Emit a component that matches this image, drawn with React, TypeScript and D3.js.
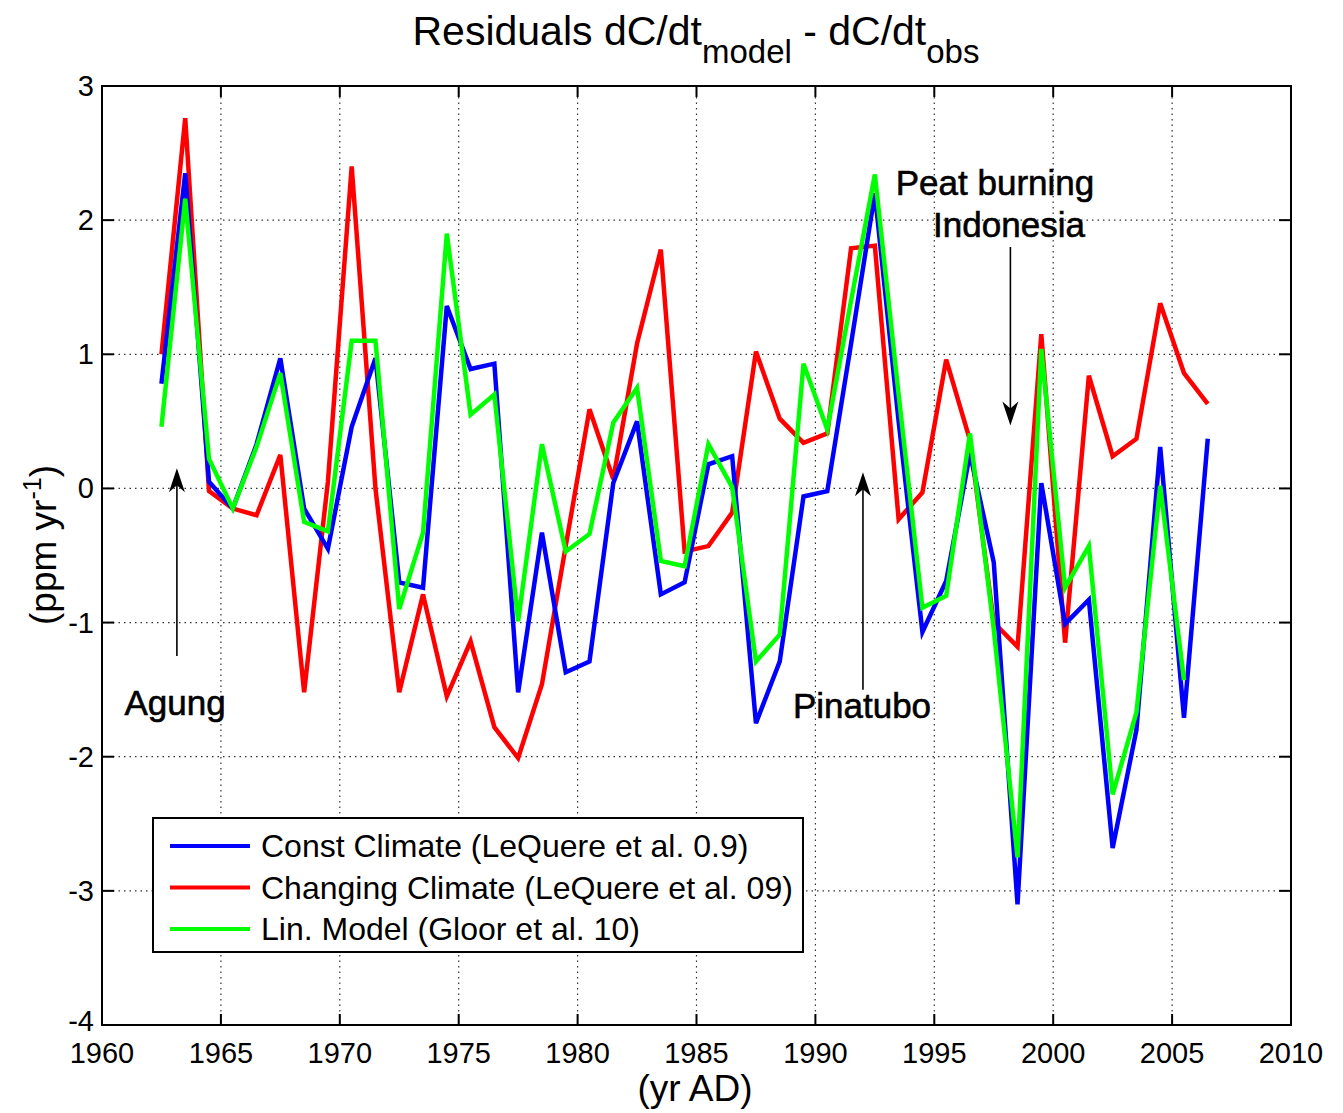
import React, { useEffect, useRef } from "react";
import * as d3 from "d3";

const years = d3.range(1962.5, 2007, 1);
const constClimate = [0.78, 2.35, 0.05, -0.15, 0.33, 0.97, -0.15, -0.45, 0.46, 0.97, -0.7, -0.74, 1.36, 0.89, 0.93, -1.52, -0.33, -1.37, -1.29, 0.04, 0.5, -0.79, -0.7, 0.18, 0.24, -1.75, -1.29, -0.06, -0.02, 1.08, 2.2, 0.5, -1.07, -0.69, 0.26, -0.55, -3.1, 0.04, -1.01, -0.83, -2.68, -1.8, 0.31, -1.71, 0.37];
const changingClimate = [1.0, 2.76, -0.02, -0.15, -0.2, 0.25, -1.52, 0.05, 2.4, 0.0, -1.52, -0.79, -1.55, -1.14, -1.78, -2.01, -1.46, -0.43, 0.59, 0.07, 1.08, 1.78, -0.47, -0.43, -0.18, 1.02, 0.52, 0.34, 0.41, 1.79, 1.81, -0.23, -0.03, 0.96, 0.36, -1.0, -1.18, 1.15, -1.15, 0.84, 0.24, 0.37, 1.38, 0.86, 0.63];
const linModel = [0.46, 2.16, 0.22, -0.15, 0.31, 0.86, -0.25, -0.32, 1.1, 1.1, -0.9, -0.33, 1.9, 0.55, 0.7, -0.99, 0.33, -0.47, -0.34, 0.49, 0.75, -0.54, -0.58, 0.33, 0.01, -1.29, -1.09, 0.93, 0.44, 1.4, 2.34, 0.7, -0.89, -0.8, 0.41, -1.05, -2.75, 1.04, -0.74, -0.43, -2.28, -1.67, 0.02, -1.43];

const xTicks = [1960, 1965, 1970, 1975, 1980, 1985, 1990, 1995, 2000, 2005, 2010];
const yTicks = [-4, -3, -2, -1, 0, 1, 2, 3];

const series = [
  { name: "Changing Climate (LeQuere et al. 09)", values: changingClimate, color: "#ff0000" },
  { name: "Const Climate (LeQuere et al. 0.9)", values: constClimate, color: "#0000ff" },
  { name: "Lin. Model (Gloor et al. 10)", values: linModel, color: "#00ff00" },
];
const legendOrder = [1, 0, 2];

const annotations = [
  { lines: [{ t: "Agung", x: 175, y: 715 }], ax: 1963.15, from: -1.25, to: 0.15 },
  { lines: [{ t: "Pinatubo", x: 862, y: 718 }], ax: 1992.0, from: -1.5, to: 0.12 },
  { lines: [{ t: "Peat burning", x: 995, y: 195 }, { t: "Indonesia", x: 1009, y: 237 }], ax: 1998.2, from: 1.8, to: 0.47 },
];

const FONT = "'Liberation Sans', Arial, Helvetica, sans-serif";

const App = () => {
  const svgRef = useRef<SVGSVGElement>(null);
  useEffect(() => {
    const svg = d3.select(svgRef.current);
    svg.selectAll("*").remove();
    const width = 1343;
    const height = 1113;
    const margin = { top: 86, right: 52, bottom: 88, left: 102 };
    const x = d3.scaleLinear().domain([1960, 2010]).range([margin.left, width - margin.right]);
    const y = d3.scaleLinear().domain([-4, 3]).range([height - margin.bottom, margin.top]);
    const [x0, x1] = x.range();
    const [y0, y1] = y.range();

    svg.append("rect").attr("width", width).attr("height", height).attr("fill", "#fff");

    // dotted grid
    const grid = svg.append("g").attr("stroke", "#333").attr("stroke-width", 1.2).attr("stroke-dasharray", "1.5,4");
    xTicks.slice(1, -1).forEach((t) => {
      grid.append("line").attr("x1", x(t)).attr("x2", x(t)).attr("y1", y1).attr("y2", y0);
    });
    yTicks.slice(1, -1).forEach((t) => {
      grid.append("line").attr("x1", x0).attr("x2", x1).attr("y1", y(t)).attr("y2", y(t));
    });

    // series lines
    const line = d3.line<number>().x((_, i) => x(years[i])).y((d) => y(d));
    series.forEach((s) => {
      svg.append("path")
        .attr("d", line(s.values))
        .attr("fill", "none")
        .attr("stroke", s.color)
        .attr("stroke-width", 4.5)
        .attr("stroke-linejoin", "miter");
    });

    // axes box + inward ticks
    const axes = svg.append("g").attr("stroke", "#000").attr("stroke-width", 2);
    axes.append("rect").attr("x", x0).attr("y", y1).attr("width", x1 - x0).attr("height", y0 - y1).attr("fill", "none");
    xTicks.forEach((t) => {
      axes.append("line").attr("x1", x(t)).attr("x2", x(t)).attr("y1", y0).attr("y2", y0 - 11);
      axes.append("line").attr("x1", x(t)).attr("x2", x(t)).attr("y1", y1).attr("y2", y1 + 11);
    });
    yTicks.forEach((t) => {
      axes.append("line").attr("x1", x0).attr("x2", x0 + 12).attr("y1", y(t)).attr("y2", y(t));
      axes.append("line").attr("x1", x1).attr("x2", x1 - 12).attr("y1", y(t)).attr("y2", y(t));
    });

    const txt = svg.append("g").attr("font-family", FONT).attr("fill", "#000");
    xTicks.forEach((t) => {
      txt.append("text").attr("x", x(t)).attr("y", y0 + 38).attr("text-anchor", "middle")
        .attr("font-size", 29).text(t);
    });
    yTicks.forEach((t) => {
      txt.append("text").attr("x", x0 - 8).attr("y", y(t) + (t === -4 ? 6 : 10)).attr("text-anchor", "end")
        .attr("font-size", 29).text(t);
    });

    // title
    const title = txt.append("text").attr("x", 696).attr("y", 45).attr("text-anchor", "middle").attr("font-size", 41);
    title.append("tspan").text("Residuals dC/dt");
    title.append("tspan").attr("font-size", 33).attr("dy", 18).text("model");
    title.append("tspan").attr("dy", -18).text(" - dC/dt");
    title.append("tspan").attr("font-size", 33).attr("dy", 18).text("obs");

    // axis labels
    txt.append("text").attr("x", 695).attr("y", 1101).attr("text-anchor", "middle")
      .attr("font-size", 37).text("(yr AD)");
    const yl = txt.append("text").attr("transform", `translate(56,545) rotate(-90)`)
      .attr("text-anchor", "middle").attr("font-size", 37);
    yl.append("tspan").text("(ppm yr");
    yl.append("tspan").attr("font-size", 25).attr("dy", -15).text("-1");
    yl.append("tspan").attr("dy", 15).text(")");

    // annotations with arrows
    annotations.forEach((a) => {
      a.lines.forEach((l) => {
        txt.append("text").attr("x", l.x).attr("y", l.y).attr("text-anchor", "middle")
          .attr("font-size", 35).attr("stroke", "#000").attr("stroke-width", 0.6).text(l.t);
      });
      const ax = x(a.ax);
      const ya = y(a.from);
      const yb = y(a.to);
      const dir = yb < ya ? 1 : -1;
      svg.append("line").attr("x1", ax).attr("x2", ax).attr("y1", ya).attr("y2", yb + dir * 10)
        .attr("stroke", "#000").attr("stroke-width", 1.6);
      svg.append("path")
        .attr("d", `M${ax},${yb} L${ax - 8},${yb + dir * 24} L${ax},${yb + dir * 17} L${ax + 8},${yb + dir * 24} Z`)
        .attr("fill", "#000");
    });

    // legend
    const lg = svg.append("g");
    lg.append("rect").attr("x", 153).attr("y", 818).attr("width", 650).attr("height", 134)
      .attr("fill", "#fff").attr("stroke", "#000").attr("stroke-width", 2);
    legendOrder.forEach((si, k) => {
      const s = series[si];
      const ly = 846 + k * 41.5;
      lg.append("line").attr("x1", 170).attr("x2", 250).attr("y1", ly).attr("y2", ly)
        .attr("stroke", s.color).attr("stroke-width", 4);
      lg.append("text").attr("x", 261).attr("y", ly + 11).attr("font-family", FONT)
        .attr("font-size", 32).text(s.name);
    });
  }, []);
  return <svg ref={svgRef} width={1343} height={1113} style={{ display: "block", marginLeft: -8, marginTop: -8 }}></svg>;
};

export default App;
